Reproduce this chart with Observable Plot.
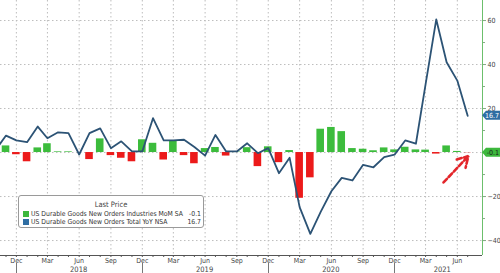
<!DOCTYPE html>
<html>
<head>
<meta charset="utf-8">
<script src="https://cdn.jsdelivr.net/npm/d3@7"></script>
<script src="https://cdn.jsdelivr.net/npm/@observablehq/plot@0.6"></script>
<style>
  html, body { margin: 0; padding: 0; background: #fff; }
  #wrap { position: relative; width: 500px; height: 273px; overflow: hidden;
    font-family: "Liberation Sans Narrow", "DejaVu Sans Condensed", "Roboto Condensed", "Liberation Sans", sans-serif; }
  #legend { position: absolute; left: 18px; top: 195px; width: 184px; height: 31px;
    border: 1px solid #9a9a9a; border-radius: 3px; background: #fff; font-size: 6.8px; color: #333; }
  #legend .title { position: absolute; top: 4px; left: 0; right: 0; text-align: center; color: #444; font-size: 7.5px; }
  #legend .row { position: absolute; left: 4px; right: 2px; height: 8px; line-height: 8px; white-space: nowrap; }
  #legend .sw { display: inline-block; width: 6px; height: 6px; vertical-align: -0.5px; margin-right: 2px; }
  #legend .val { position: absolute; right: 0; top: 0; }
</style>
</head>
<body>
<div id="wrap"></div>
<script>
// ---- data ----
const months = ["2017-10","2017-11","2017-12","2018-01","2018-02","2018-03","2018-04","2018-05","2018-06","2018-07","2018-08","2018-09","2018-10","2018-11","2018-12","2019-01","2019-02","2019-03","2019-04","2019-05","2019-06","2019-07","2019-08","2019-09","2019-10","2019-11","2019-12","2020-01","2020-02","2020-03","2020-04","2020-05","2020-06","2020-07","2020-08","2020-09","2020-10","2020-11","2020-12","2021-01","2021-02","2021-03","2021-04","2021-05","2021-06","2021-07"];
const yoyNSA = [1.0, 7.7, 5.5, 4.7, 11.8, 6.5, 9.2, 8.8, -0.9, 8.8, 11.0, 2.0, 5.1, 0.5, 0.5, 15.6, 5.5, 5.5, 5.8, 2.5, -1.4, 8.0, 0.5, 0.5, 4.2, -0.3, 2.0, -9.4, -2.4, -24.8, -37.0, -27.0, -17.6, -11.5, -12.7, -5.6, -6.7, -2.1, -1.0, 5.5, 4.0, 31.0, 60.5, 41.0, 32.7, 16.7];
const momSA = [null, 3.0, -1.0, -4.2, 2.1, 4.0, 0.3, 0.3, 0.0, -3.2, 6.2, -1.4, -2.6, -4.2, 5.8, 4.2, -3.4, 5.3, -1.4, -5.1, 1.8, 2.3, -1.6, 0.2, 2.2, -6.4, 2.6, -4.6, 0.9, -20.8, -11.5, 10.6, 11.4, 9.5, 1.8, 1.5, 0.8, 2.1, 1.2, 2.4, 1.2, 1.1, -0.7, 3.0, 0.5, -0.1];
const yTicks = [-40, -20, 0, 20, 40, 60];
const quarterLabels = ["2017-12","2018-03","2018-06","2018-09","2018-12","2019-03","2019-06","2019-09","2019-12","2020-03","2020-06","2020-09","2020-12","2021-03","2021-06"];
const yearSeparators = ["2017-12","2018-12","2019-12","2020-12"];
const yearLabels = ["2018","2019","2020","2021"];
const yearLabelDates = ["2018-06-01","2019-06-01","2020-06-01","2021-04-20"];
const lastPrice = [{name: "US Durable Goods New Orders Industries MoM SA", value: -0.1, color: "#3db83d"},
                   {name: "US Durable Goods New Orders Total YoY NSA", value: 16.7, color: "#2f6ea3"}];
const arrowAnno = [{x1: "2021-04-22", y1: -13.6, x2: "2021-07-03", y2: -1.6}];

// ---- build ----
const d = s => new Date(s.length === 7 ? s + "-01" : s);
const rows = months.map((m, i) => ({date: d(m), yoy: yoyNSA[i], mom: momSA[i]}));
const bars = rows.filter(r => r.mom != null);
const DAY = 864e5;
const GREEN = "#3cbc3c", RED = "#ec1a1a", LINE = "#2c5375", GRID = "#bdbdbd";
const font = '"Liberation Sans Narrow", "DejaVu Sans Condensed", "Roboto Condensed", "Liberation Sans", sans-serif';
const xDomain = [new Date("2017-10-16"), new Date("2021-08-13")];

const plot = Plot.plot({
  width: 500, height: 273,
  marginLeft: 0, marginRight: 18, marginTop: 0, marginBottom: 18,
  style: {fontFamily: font, fontSize: "7px", background: "#fff", color: "#444", overflow: "visible"},
  x: {type: "utc", domain: xDomain},
  y: {domain: [-46.8, 69.1]},
  marks: [
    Plot.ruleY(yTicks, {stroke: GRID, strokeDasharray: "1.5,2.5"}),
    Plot.ruleX(quarterLabels.map(d), {stroke: GRID, strokeDasharray: "1.5,2.5"}),
    Plot.rectY(bars, {
      x1: r => new Date(+r.date - 11 * DAY), x2: r => new Date(+r.date + 11 * DAY),
      y1: 0, y2: "mom", fill: r => r.mom < 0 ? RED : GREEN
    }),
    Plot.line(rows, {x: "date", y: "yoy", stroke: LINE, strokeWidth: 1.8, clip: true}),
    Plot.arrow(arrowAnno, {x1: a => d(a.x1), y1: "y1", x2: a => d(a.x2), y2: "y2",
      stroke: "#e3262b", strokeWidth: 2.6, strokeDasharray: "5,2.5", headLength: 7, bend: false}),
    // bottom axis
    Plot.ruleY([-46.8], {stroke: "#555", strokeWidth: 1}),
    Plot.axisX(months.map(d), {tickSize: 2, text: null, stroke: "#555"}),
    Plot.axisX(quarterLabels.map(d), {tickSize: 0, tickPadding: 3, tickFormat: d3.utcFormat("%b"), fill: "#444", fontSize: 7}),
    // right axis
    Plot.ruleX([xDomain[1]], {stroke: "#6cbf6c", strokeWidth: 1}),
    Plot.axisY(d3.range(-40, 70, 10), {anchor: "right", tickSize: 2, text: null, stroke: "#8a8"}),
    Plot.axisY(yTicks.filter(v => v !== 0), {anchor: "right", tickSize: 3, tickPadding: 2, stroke: "#8a8", fill: "#444", fontSize: 7})
  ]
});

const wrap = document.getElementById("wrap");
wrap.appendChild(plot);

// year separators and year labels via the plot's x scale
const sx = plot.scale("x"), sy = plot.scale("y");
const svg = d3.select(plot);
const g = svg.append("g");
yearSeparators.forEach(s => {
  const x = Math.round(sx.apply(d(s))) + 0.5;
  g.append("line").attr("x1", x).attr("x2", x).attr("y1", 263).attr("y2", 273).attr("stroke", "#777");
});
yearLabels.forEach((t, i) => {
  g.append("text").attr("x", sx.apply(d(yearLabelDates[i]))).attr("y", 272)
    .attr("text-anchor", "middle").attr("font-size", 7.5).attr("fill", "#444").attr("font-family", font).text(t);
});

// last value tags on the right axis
const xr = 482;
lastPrice.forEach(p => {
  const y = sy.apply(p.value);
  g.append("path").attr("d", `M${xr},${y} L${xr + 4},${y - 4.5} L500,${y - 4.5} L500,${y + 4.5} L${xr + 4},${y + 4.5} Z`)
    .attr("fill", p.color);
  g.append("text").attr("x", 499).attr("y", y + 2.5).attr("text-anchor", "end")
    .attr("font-size", 7).attr("font-family", font)
    .attr("fill", p.value < 0 ? "#1a1a1a" : "#fff").text(p.value.toFixed(1));
});

// legend
const lg = document.createElement("div");
lg.id = "legend";
lg.innerHTML = `<div class="title">Last Price</div>` + lastPrice.map((p, i) =>
  `<div class="row" style="top:${14 + i * 8}px"><span class="sw" style="background:${p.color}"></span>${p.name}<span class="val">${p.value.toFixed(1)}</span></div>`).join("");
wrap.appendChild(lg);
</script>
</body>
</html>
